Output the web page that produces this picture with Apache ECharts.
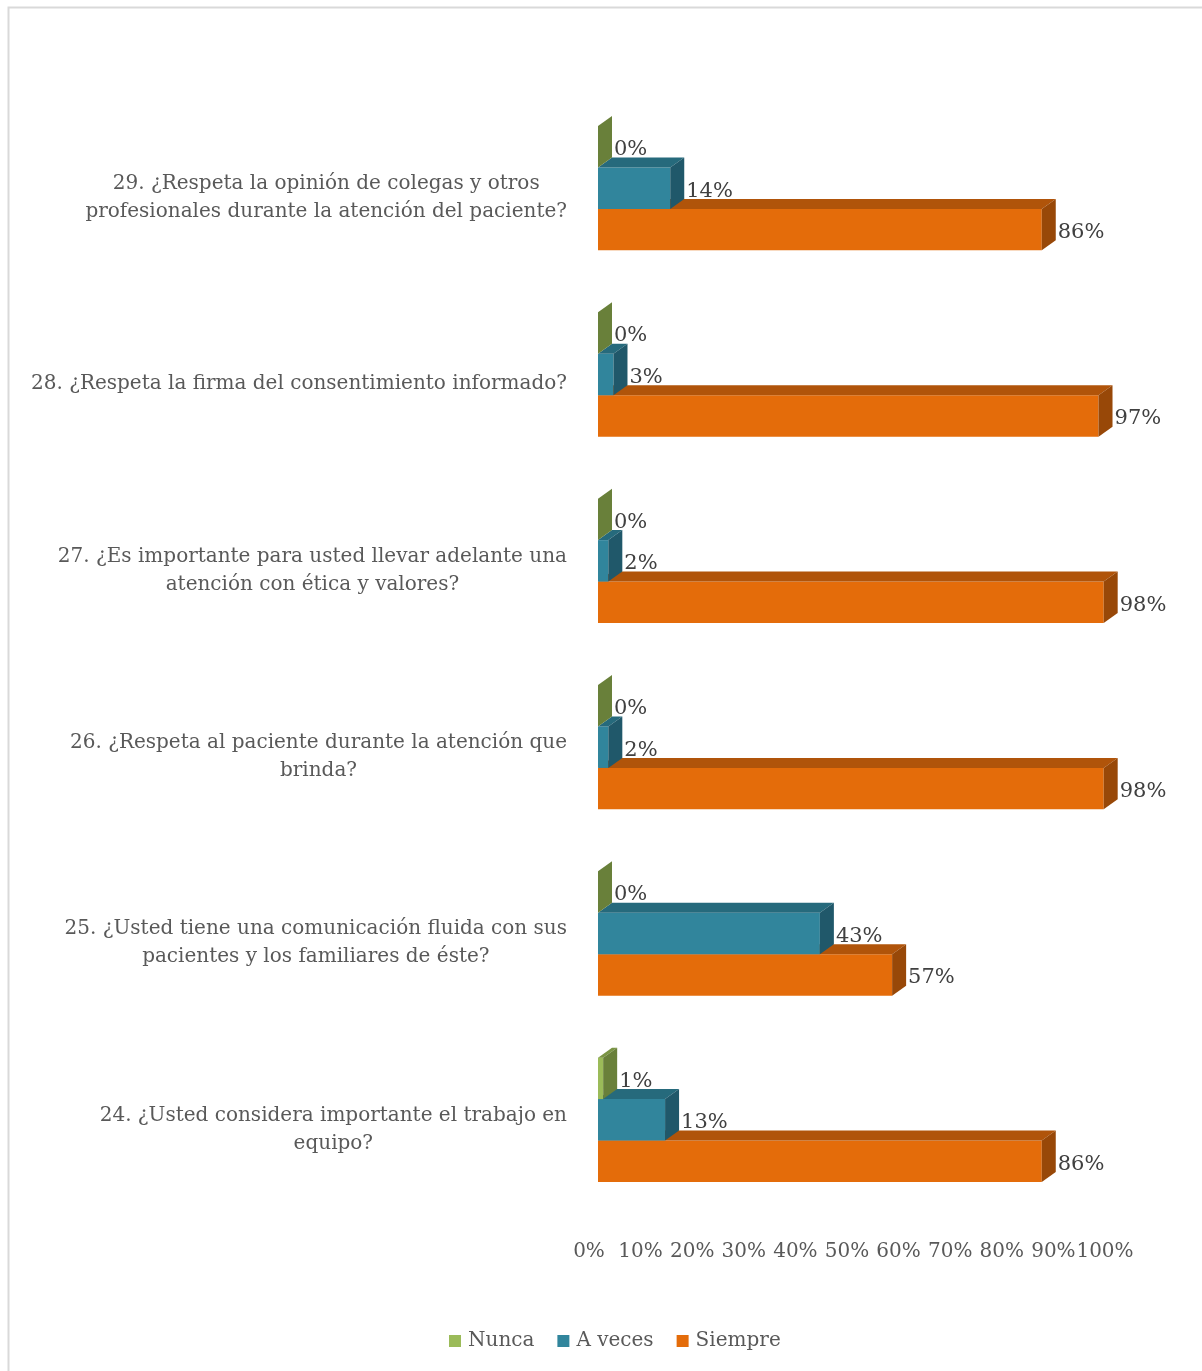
<!DOCTYPE html>
<html>
<head>
<meta charset="utf-8">
<script src="https://cdn.jsdelivr.net/npm/echarts@6/dist/echarts.min.js"></script>
<style>
  html, body { margin: 0; padding: 0; background: #ffffff; }
  #chart { width: 1202px; height: 1371px; }
</style>
</head>
<body>
<div id="chart"></div>
<script>
// Survey questions, listed bottom to top
var categories = [
  '24. ¿Usted considera importante el trabajo en\nequipo?',
  '25. ¿Usted tiene una comunicación fluida con sus\npacientes y los familiares de éste?',
  '26. ¿Respeta al paciente durante la atención que\nbrinda?',
  '27. ¿Es importante para usted llevar adelante una\natención con ética y valores?',
  '28. ¿Respeta la firma del consentimiento informado?',
  '29. ¿Respeta la opinión de colegas y otros\nprofesionales durante la atención del paciente?'
];
var seriesNames = ['Nunca', 'A veces', 'Siempre'];
var nunca   = [1, 0, 0, 0, 0, 0];
var aVeces  = [13, 43, 2, 2, 3, 14];
var siempre = [86, 57, 98, 98, 97, 86];
var xTicks  = [0, 10, 20, 30, 40, 50, 60, 70, 80, 90, 100];

// front / top / side shades of each 3D bar
var shades = [
  { front: '#9bbb59', top: '#7a9444', side: '#69803a' },
  { front: '#31859c', top: '#266a7c', side: '#20586a' },
  { front: '#e46c0a', top: '#b0540a', side: '#984808' }
];
var DX = 14, DY = -10;      // depth of the 3D bars
var FRONT_SHIFT = 9;        // front faces sit slightly right of the axis plane
var FONT = '"DejaVu Serif", serif';

function makeRender(slot) {
  return function (params, api) {
    var value = api.value(0);
    var cat = api.value(1);
    var c = api.coord([0, cat]);
    var band = api.size([0, 1])[1];
    var h = band * 0.2225;
    var top = c[1] - 1.5 * h + slot * h;
    var bottom = top + h;
    var x0 = c[0] + FRONT_SHIFT;
    var x1 = api.coord([value, cat])[0] + FRONT_SHIFT;
    var sh = shades[slot];
    return {
      type: 'group',
      children: [
        { type: 'rect', shape: { x: x0, y: top, width: x1 - x0, height: h },
          style: { fill: sh.front } },
        { type: 'polygon', shape: { points: [[x0, top], [x1, top], [x1 + DX, top + DY], [x0 + DX, top + DY]] },
          style: { fill: sh.top } },
        { type: 'polygon', shape: { points: [[x1, top], [x1 + DX, top + DY], [x1 + DX, bottom + DY], [x1, bottom]] },
          style: { fill: sh.side } },
        { type: 'text', z2: 10,
          style: { x: x1 + DX + 2, y: (top + bottom) / 2 + 3, text: value + '%',
                   fill: '#404040', font: '21px ' + FONT, verticalAlign: 'middle', align: 'left' } }
      ]
    };
  };
}

function buildSeries(name, values, slot) {
  return {
    name: name,
    type: 'custom',
    z: 5 - slot,
    itemStyle: { color: shades[slot].front },
    renderItem: makeRender(slot),
    encode: { x: 0, y: 1 },
    data: values.map(function (v, i) { return [v, i]; })
  };
}

var chart = echarts.init(document.getElementById('chart'), null, { renderer: 'canvas' });
chart.setOption({
  animation: false,
  backgroundColor: '#ffffff',
  graphic: [{
    type: 'rect', left: 6, top: 5, silent: true,
    shape: { width: 1220, height: 1400 },
    style: { fill: 'none', stroke: '#d9d9d9', lineWidth: 2 }
  }],
  legend: {
    bottom: 15, left: 444,
    data: seriesNames,
    icon: 'rect', itemWidth: 12, itemHeight: 12, itemGap: 23,
    textStyle: { color: '#595959', fontFamily: FONT, fontSize: 20, padding: [0, 0, 0, 2] }
  },
  grid: { left: 589, right: 97, top: 95, bottom: 158, containLabel: false },
  xAxis: {
    type: 'value', min: xTicks[0], max: xTicks[xTicks.length - 1], interval: 10,
    axisLine: { show: false }, axisTick: { show: false }, splitLine: { show: false },
    axisLabel: {
      margin: 29, color: '#595959', fontFamily: FONT, fontSize: 20,
      showMinLabel: true, showMaxLabel: true, hideOverlap: false,
      textMargin: 0, minMargin: 0,
      formatter: function (v) { return v + '%'; }
    }
  },
  yAxis: {
    type: 'category', data: categories,
    axisLine: { show: false }, axisTick: { show: false },
    axisLabel: {
      margin: 22, color: '#595959', fontFamily: FONT, fontSize: 20,
      padding: [19, 0, 0, 0],
      formatter: function (v) {
        return v.split('\n').map(function (l) { return '{c|' + l + '}'; }).join('\n');
      },
      rich: { c: { align: 'center', color: '#595959', fontFamily: FONT, fontSize: 20, lineHeight: 28 } }
    }
  },
  series: [
    buildSeries(seriesNames[0], nunca, 0),
    buildSeries(seriesNames[1], aVeces, 1),
    buildSeries(seriesNames[2], siempre, 2)
  ]
});
</script>
</body>
</html>
